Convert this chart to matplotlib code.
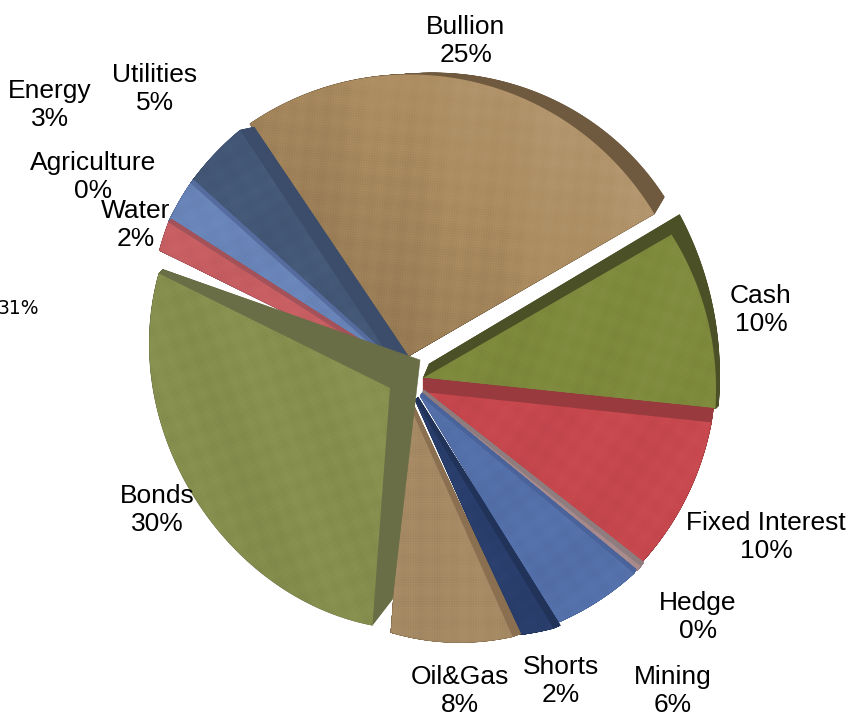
import numpy as np
import matplotlib
matplotlib.use("Agg")
import matplotlib.pyplot as plt
from matplotlib.patches import Polygon

plt.rcParams['font.family'] = ['Liberation Sans', 'DejaVu Sans']

W, H = 849, 715

# clockwise from the top
categories = ["Bullion", "Cash", "Fixed Interest", "Hedge", "Mining", "Shorts",
              "Oil&Gas", "Bonds", "Water", "Agriculture", "Energy", "Utilities"]
values = [25.4, 10.4, 9.6, 0.3, 5.6, 2.1, 8.2, 30.4, 1.9, 0.1, 2.6, 4.6]

start_angle = 122
# perspective pulls the slice edges a little off their true angle
edge_skew = [1.5, -1.65, -0.65, 1.1, 0.95, 1.7, 2.0, 2.9, -1.1, -0.5, -0.1, -0.2, 1.4]

face_colors = ["#AC8C60", "#7E8A3C", "#C8484E", "#A88A8C", "#5572AD", "#2A3F6E",
               "#A88C66", "#8A9350", "#C95F63", "#6A86BA", "#6A86BA", "#445878"]
wall_colors = ["#6F5A3F", "#4C5026", "#993A3E", "#8E7C7E", "#4A649B", "#22335A",
               "#8A7050", "#696E47", "#A4525A", "#566C9E", "#566C9E", "#3C4D6C"]

# slice layout in pixels from the top left: tip, radius at the clockwise end,
# radius at the other end, how far the arc sags in the middle
tips = [(405, 358), (423, 378), (423, 392), (422, 393), (420, 396), (415, 400),
        (408, 402), (390, 388), (397, 368), (397, 368), (397, 368), (397, 368)]
radii_low = [288, 294, 277, 279, 265, 257, 231, 258, 271, 271, 277, 285]
radii_high = [281, 287, 290, 279, 278, 267, 257, 238, 265, 271, 271, 277]
radii_sag = [0, 0, 0, 0, 0, 0, 0, 24, 0, 0, 0, 0]

# wall depth as (right, up) shift of the tip, the clockwise corner, the other corner
depth_tip = [(0, 0), (6, 14), (0, 14), (2, 3), (2, 3), (3, 3), (3, 3), (30, 28),
             (3, 3), (2, 2), (3, 2), (14, 8)]
depth_low = [(10, 17), (3, 3), (0, 0), (3, 4), (1, 1), (0, 0), (0, 0), (4, 4),
             (3, 3), (2, 2), (3, 3), (14, 3)]
depth_high = [(8, -8), (8, 20), (2, 14), (3, 4), (2, 4), (7, 3), (8, 3), (20, 26),
              (0, 0), (2, 2), (0, 0), (0, 0)]

texture_angles = [5, 20, 35, 40, 55, 60, 0, -20, 70, 70, 65, 60]
light = [0.2, 0.03, 0.03, 0, 0.03, 0.02, 0.02, 0.03, 0.02, 0, 0.02, 0.02]

draw_order = [0, 11, 10, 9, 8, 1, 2, 3, 4, 5, 6, 7]

label_pos = [(466, 41), (761, 310), (766, 537), (698, 617), (673, 691), (561, 681),
             (460, 691), (157, 510), (136, 225), (93, 177), (50, 105), (155, 89)]


def slice_outline(i, th_low, th_high, t):
    # outline of slice i, pushed back by a fraction t of its depth
    th = np.linspace(th_low, th_high, 80)
    f = np.linspace(0, 1, 80)
    r = radii_low[i] + (radii_high[i] - radii_low[i]) * f - radii_sag[i] * np.sin(np.pi * f)
    cx, cy = tips[i][0], H - tips[i][1]
    sx = depth_low[i][0] + (depth_high[i][0] - depth_low[i][0]) * f
    sy = depth_low[i][1] + (depth_high[i][1] - depth_low[i][1]) * f
    xs = cx + r * np.cos(np.deg2rad(th)) + sx * t
    ys = cy + r * np.sin(np.deg2rad(th)) + sy * t
    tip = [cx + depth_tip[i][0] * t, cy + depth_tip[i][1] * t]
    return np.vstack([tip, np.column_stack([xs, ys])])


def texture(angle, tip, lift):
    yy, xx = np.mgrid[0:H, 0:W]
    a = np.deg2rad(angle)
    u = xx * np.cos(a) + yy * np.sin(a)
    v = -xx * np.sin(a) + yy * np.cos(a)
    weave = 0.014 * np.sin(u * 2.6) + 0.014 * np.sin(v * 2.6)
    cloth = 0.009 * np.sin(u * 0.37) + 0.009 * np.sin(v * 0.29) + 0.012 * np.sin(u * 0.07)
    # lighter towards the upper right of the slice
    grad = ((xx - tip[0]) * 0.7 + (tip[1] - yy) * 0.7) / 280.0 - 0.6
    s = weave + cloth + lift * grad
    rgba = np.zeros((H, W, 4))
    rgba[..., :3] = (s > 0)[..., None] * 1.0
    rgba[..., 3] = np.clip(np.abs(s), 0, 1)
    return rgba


fig = plt.figure(figsize=(W / 100, H / 100), dpi=100)
ax = fig.add_axes([0, 0, 1, 1])
ax.axis("off")

fractions = np.array(values) / np.sum(values)
edges = start_angle - np.concatenate([[0], np.cumsum(fractions)]) * 360 + np.array(edge_skew)

z = 1
for i in draw_order:
    th_high, th_low = edges[i], edges[i + 1]
    # sweep from the back face to the front to build the wall
    for t in np.linspace(1, 0, 40):
        ax.add_patch(Polygon(slice_outline(i, th_low, th_high, t), closed=True,
                             fc=wall_colors[i], ec=wall_colors[i], lw=0.4, zorder=z))
    z += 1
    face = Polygon(slice_outline(i, th_low, th_high, 0), closed=True,
                   fc=face_colors[i], ec="none", zorder=z)
    ax.add_patch(face)
    z += 1
    im = ax.imshow(texture(texture_angles[i], tips[i], light[i]), extent=(0, W, 0, H),
                   origin="upper", aspect="auto", interpolation="bilinear", zorder=z)
    im.set_clip_path(face)
    z += 1

ax.set_xlim(0, W)
ax.set_ylim(0, H)

for name, val, (x, y) in zip(categories, values, label_pos):
    ax.text(x, H - y, f"{name}\n{round(val)}%", ha="center", va="center", fontsize=19,
            color="black", linespacing=1.25, zorder=100)

ax.text(18, H - 308, "31%", ha="center", va="center", fontsize=13.5,
        family=["DejaVu Sans"], color="black", zorder=100)

fig.savefig("out.png", dpi=100)
